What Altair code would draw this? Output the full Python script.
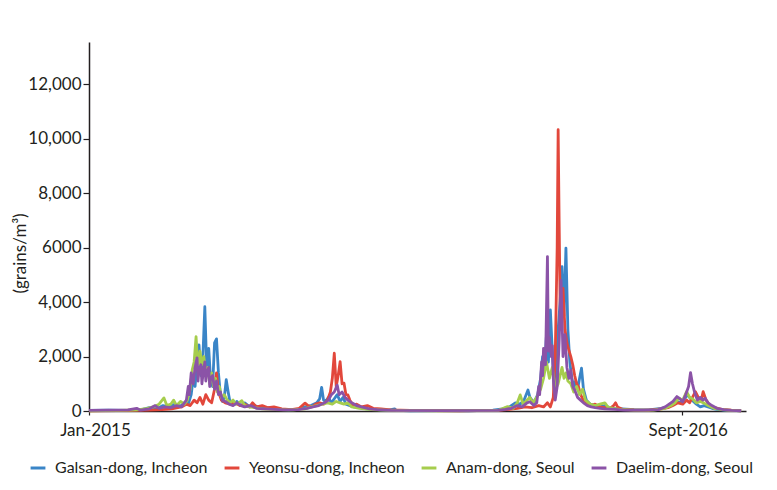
import altair as alt
import pandas as pd

start = pd.Timestamp("2015-01-01")

series_names = ["Galsan-dong, Incheon", "Yeonsu-dong, Incheon", "Anam-dong, Seoul", "Daelim-dong, Seoul"]
series_colors = ["#3a85c7", "#e2473b", "#a6cd4d", "#8b53a7"]

# (days since 2015-01-01, grains/m3)
galsan = [(0, 20), (20, 30), (40, 20), (55, 60), (62, 120), (70, 80), (76, 200), (82, 150), (88, 250), (94, 180),
          (98, 300), (102, 250), (105, 600), (107, 1200), (109, 900), (111, 1800), (113, 2430), (115, 1300),
          (117, 2000), (119, 3830), (121, 1500), (123, 2300), (125, 1100), (127, 900), (129, 2500), (131, 2650),
          (133, 1400), (135, 600), (137, 350), (139, 500), (141, 1150), (143, 700), (145, 300), (148, 250),
          (152, 350), (156, 200), (160, 300), (165, 150), (170, 200), (178, 100), (186, 120), (195, 60), (205, 40),
          (215, 60), (222, 150), (228, 200), (234, 300), (237, 450), (239, 870), (241, 400), (243, 350), (246, 500),
          (249, 300), (252, 450), (255, 600), (258, 350), (261, 500), (264, 250), (268, 200), (272, 150), (278, 120),
          (285, 80), (292, 60), (300, 40), (308, 30), (314, 80), (316, 20), (330, 10), (360, 15), (390, 10),
          (415, 30), (425, 80), (432, 150), (438, 300), (443, 250), (447, 400), (451, 770), (453, 500), (457, 300),
          (461, 600), (464, 1200), (466, 2000), (468, 1500), (470, 2800), (472, 1800), (474, 3710), (476, 2200),
          (478, 700), (480, 1500), (482, 3000), (484, 4000), (486, 5300), (488, 3500), (490, 5980), (492, 3000),
          (494, 1800), (496, 1200), (498, 900), (500, 1100), (502, 800), (504, 1200), (506, 1570), (508, 800),
          (511, 400), (515, 250), (520, 200), (525, 150), (530, 200), (535, 120), (540, 100), (548, 80), (560, 50),
          (575, 40), (588, 100), (595, 150), (600, 250), (604, 350), (608, 300), (612, 450), (615, 600), (618, 450),
          (621, 350), (624, 250), (628, 150), (632, 200), (636, 150), (640, 100), (645, 60), (652, 30), (660, 20),
          (670, 10)]

yeonsu = [(0, 10), (30, 15), (60, 30), (75, 50), (85, 80), (95, 150), (100, 250), (104, 200), (108, 400), (111, 300),
          (114, 500), (117, 250), (120, 600), (123, 400), (126, 300), (129, 800), (131, 1400), (133, 700), (136, 400),
          (140, 300), (145, 250), (150, 300), (155, 200), (160, 250), (165, 150), (168, 300), (172, 150), (178, 200),
          (184, 120), (190, 150), (198, 80), (208, 50), (216, 100), (222, 290), (225, 200), (229, 150), (233, 250),
          (237, 300), (241, 250), (245, 400), (248, 700), (250, 1200), (252, 2120), (254, 900), (256, 1300),
          (258, 1810), (260, 1000), (262, 1020), (264, 600), (266, 590), (268, 400), (271, 220), (275, 250),
          (280, 150), (286, 200), (292, 100), (300, 80), (310, 40), (330, 20), (380, 10), (420, 20), (432, 60),
          (440, 100), (448, 150), (455, 120), (462, 200), (467, 150), (471, 300), (474, 150), (477, 500), (479, 2000),
          (481, 6000), (482, 10330), (483, 7000), (484, 4000), (485, 3000), (487, 4500), (489, 3000), (491, 2500),
          (493, 2240), (495, 2000), (497, 1700), (499, 1300), (501, 1000), (503, 880), (505, 600), (508, 400),
          (512, 300), (516, 200), (520, 250), (525, 150), (530, 120), (535, 100), (539, 200), (541, 300), (543, 150),
          (548, 60), (560, 40), (575, 30), (588, 80), (595, 120), (600, 200), (605, 300), (610, 250), (614, 400),
          (617, 300), (620, 500), (623, 710), (626, 500), (629, 400), (631, 710), (634, 400), (638, 200), (643, 120),
          (650, 60), (660, 30), (670, 10)]

anam = [(0, 10), (30, 20), (50, 40), (60, 100), (66, 150), (72, 250), (77, 480), (80, 200), (84, 250), (87, 400),
        (90, 200), (94, 350), (98, 250), (101, 400), (104, 800), (106, 1500), (108, 1800), (110, 2730), (112, 1500),
        (114, 2200), (116, 1700), (118, 2000), (120, 1300), (122, 1600), (124, 1000), (126, 1400), (128, 900),
        (130, 1200), (132, 700), (134, 900), (136, 500), (139, 600), (142, 400), (145, 300), (148, 400), (151, 250),
        (154, 300), (157, 380), (160, 200), (165, 150), (170, 120), (178, 80), (190, 50), (210, 40), (222, 80),
        (228, 150), (234, 200), (240, 250), (245, 300), (250, 250), (254, 350), (258, 300), (262, 250), (266, 300),
        (270, 150), (278, 100), (290, 50), (310, 20), (360, 10), (420, 20), (430, 160), (436, 100), (440, 300),
        (443, 590), (446, 250), (450, 400), (453, 500), (456, 300), (460, 500), (464, 800), (467, 1200), (470, 1800),
        (473, 1200), (476, 1600), (479, 800), (482, 1000), (484, 1300), (486, 1600), (488, 1200), (490, 1400),
        (492, 1100), (495, 1000), (498, 700), (501, 900), (504, 600), (507, 800), (510, 400), (515, 250), (520, 200),
        (525, 250), (530, 300), (533, 150), (538, 100), (545, 60), (560, 30), (580, 30), (592, 100), (598, 200),
        (602, 300), (606, 470), (610, 400), (614, 710), (617, 500), (620, 450), (624, 300), (628, 350), (632, 290),
        (636, 200), (642, 100), (650, 50), (660, 20), (670, 10)]

daelim = [(0, 20), (20, 30), (40, 40), (49, 100), (53, 30), (62, 80), (68, 200), (72, 100), (78, 150), (84, 120),
          (90, 200), (95, 150), (100, 400), (102, 900), (103, 600), (105, 1400), (107, 1000), (109, 1600), (111, 1950),
          (112, 1100), (113, 1500), (115, 1700), (116, 1000), (117, 1300), (119, 1800), (120, 1100), (121, 1400),
          (123, 1600), (124, 900), (125, 1200), (127, 1300), (129, 800), (131, 1100), (133, 600), (135, 700),
          (137, 400), (140, 350), (144, 250), (148, 200), (152, 300), (156, 200), (160, 150), (166, 200), (172, 100),
          (180, 80), (190, 60), (200, 40), (215, 50), (224, 100), (230, 150), (236, 200), (242, 300), (246, 400),
          (249, 600), (252, 700), (255, 950), (257, 600), (260, 700), (263, 500), (266, 400), (270, 300), (275, 200),
          (280, 150), (288, 80), (296, 50), (310, 20), (360, 15), (420, 20), (428, 60), (434, 100), (440, 200),
          (445, 150), (450, 300), (453, 340), (457, 200), (460, 300), (462, 900), (463, 600), (465, 1800), (466, 1300),
          (467, 2300), (469, 1700), (471, 5670), (472, 2200), (473, 2700), (475, 2000), (476, 2400), (477, 1200),
          (479, 400), (481, 900), (483, 2500), (485, 4800), (487, 2000), (489, 2800), (491, 1600), (493, 1200),
          (495, 1500), (497, 900), (499, 770), (502, 500), (505, 400), (508, 300), (512, 200), (516, 150), (520, 120),
          (525, 100), (530, 80), (540, 60), (550, 30), (570, 30), (585, 50), (592, 150), (596, 250), (600, 350),
          (604, 530), (607, 450), (610, 340), (613, 600), (616, 900), (618, 1410), (620, 1000), (622, 710), (625, 400),
          (628, 500), (631, 400), (633, 470), (636, 300), (640, 200), (645, 100), (652, 50), (660, 20), (670, 10)]

y_tick_values = [0, 2000, 4000, 6000, 8000, 10000, 12000]
x_tick_labels = ["Jan-2015", "Sept-2016"]

rows = []
for name, pts in zip(series_names, [galsan, yeonsu, anam, daelim]):
    for d, v in pts:
        rows.append({"date": start + pd.Timedelta(days=d), "site": name, "count": v})
df = pd.DataFrame(rows)

font = "Lato"
ink = "#231f20"

color = alt.Color(
    "site:N",
    scale=alt.Scale(domain=series_names, range=series_colors),
    legend=alt.Legend(
        title=None, orient="none", direction="horizontal", legendX=-60, legendY=417,
        symbolType="stroke", symbolStrokeWidth=3, symbolSize=220, labelFontSize=16,
        labelFont=font, labelColor=ink, columnPadding=10, labelOffset=8, padding=0,
        labelLimit=300,
    ),
)

x = alt.X(
    "date:T",
    scale=alt.Scale(domain=[alt.DateTime(year=2015, month=1, date=1), alt.DateTime(year=2016, month=11, date=6)]),
    axis=alt.Axis(
        title=None, grid=False,
        values=[alt.DateTime(year=2015, month=1, date=1), alt.DateTime(year=2016, month=9, date=1)],
        labelExpr=f"year(datum.value) == 2015 ? '{x_tick_labels[0]}' : '{x_tick_labels[1]}'",
        labelFlush=False, labelOffset=6, labelPadding=7, tickSize=4,
    ),
)
y = alt.Y(
    "count:Q",
    scale=alt.Scale(domain=[0, 13550], nice=False),
    axis=alt.Axis(
        title="(grains/m³)", grid=False, values=y_tick_values,
        labelExpr="datum.value == 6000 ? '6000' : format(datum.value, ',')",
        titleX=-60, titleY=211, titleAngle=270, titleBaseline="bottom", titleAlign="center",
        titleFontSize=17, titleFontWeight="normal", tickSize=6, labelPadding=2,
    ),
)

layers = []
for name in series_names:
    layers.append(
        alt.Chart(df)
        .transform_filter(alt.datum.site == name)
        .mark_line(strokeWidth=2.8, strokeJoin="round")
        .encode(x=x, y=y, color=color)
    )

chart = (
    alt.layer(*layers)
    .properties(
        width=657, height=369,
        autosize=alt.AutoSizeParams(type="none"),
        padding={"left": 81, "top": 34, "right": 22, "bottom": 67},
    )
    .configure_view(stroke=None)
    .configure_axis(
        domainColor=ink, domainWidth=1.5, tickColor=ink, tickWidth=1.2,
        labelColor=ink, labelFont=font, labelFontSize=17, titleFont=font, titleColor=ink,
    )
)

chart.save("out.html", embed_options={"renderer": "svg", "actions": False})
